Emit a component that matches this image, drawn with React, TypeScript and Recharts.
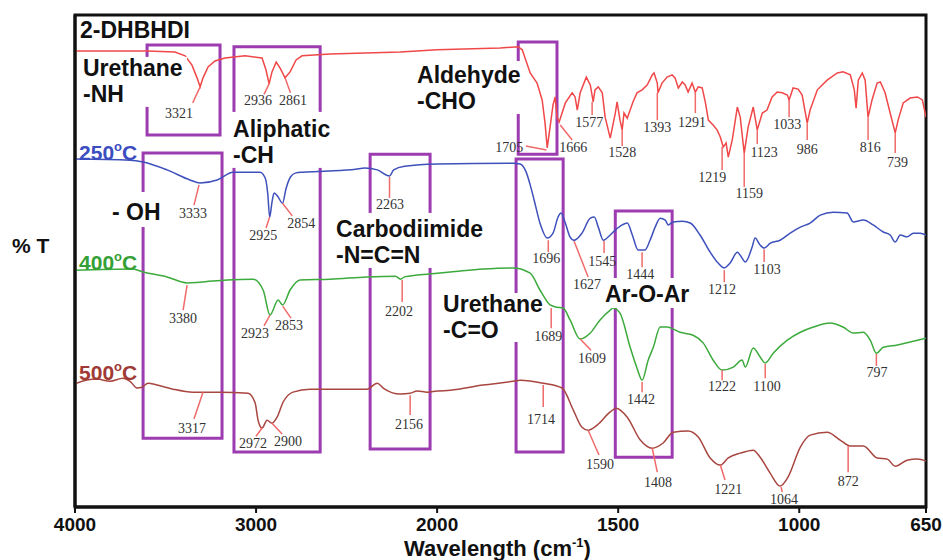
import React from "react";
import {
  LineChart,
  Line,
  XAxis,
  YAxis,
  ReferenceArea,
  ReferenceLine,
  ReferenceDot,
} from "recharts";

// wavenumber ticks (cm-1); the axis doubles its scale below 2000
const xTickWaves = [4000, 3000, 2000, 1500, 1000, 650];
const yTicks = [0, 10, 20, 30, 40, 50, 60, 70, 80, 90, 100, 110, 120];

// spectra as [wavenumber, %T] (arbitrary offset units)
const dhbhdi = [
  [4000, 117.4], [3862, 117.4], [3602, 117.4], [3448, 117.1], [3392, 116.1], [3354, 113.6],
  [3326, 110.2], [3309, 107.8], [3293, 110.2], [3265, 113.1], [3227, 114.7], [3171, 115.5],
  [3061, 116.1], [2967, 115.5], [2945, 112.3], [2928, 108.6], [2912, 111.8], [2889, 114.4],
  [2867, 112.8], [2840, 110.2], [2812, 111.8], [2779, 115.0], [2746, 116.1], [2591, 116.6],
  [2204, 117.1], [2000, 117.7], [1826, 118.2], [1776, 118.5], [1765, 117.7], [1743, 111.5],
  [1724, 108.8], [1710, 104.3], [1702, 98.1], [1696, 91.5], [1688, 97.1], [1680, 103.0],
  [1674, 105.1], [1669, 99.7], [1663, 98.4], [1646, 103.5], [1627, 106.2], [1619, 105.1],
  [1613, 101.6], [1605, 106.2], [1588, 110.4], [1577, 108.3], [1569, 103.8], [1564, 107.0],
  [1555, 107.8], [1544, 106.2], [1536, 99.7], [1522, 94.1], [1508, 100.8], [1503, 103.8],
  [1495, 98.9], [1489, 96.3], [1484, 100.8], [1475, 99.4], [1467, 101.6], [1459, 103.8],
  [1448, 106.2], [1434, 107.0], [1420, 108.3], [1406, 111.0], [1401, 111.5], [1392, 108.8],
  [1390, 106.2], [1379, 108.8], [1365, 110.4], [1351, 111.0], [1343, 110.2], [1334, 107.5],
  [1323, 109.1], [1315, 108.3], [1307, 106.4], [1296, 108.8], [1287, 106.4], [1279, 107.8],
  [1268, 107.5], [1259, 103.5], [1251, 98.9], [1238, 97.6], [1227, 96.3], [1218, 94.4],
  [1210, 91.7], [1202, 92.8], [1196, 89.0], [1185, 93.6], [1171, 102.4], [1163, 99.7],
  [1152, 90.1], [1141, 97.1], [1127, 102.4], [1116, 96.3], [1102, 100.8], [1089, 101.6],
  [1075, 105.1], [1061, 106.4], [1047, 106.2], [1033, 105.6], [1028, 104.3], [1017, 107.5],
  [1003, 107.2], [992, 105.6], [978, 98.1], [970, 101.6], [950, 107.0], [923, 109.6],
  [895, 111.5], [879, 111.8], [859, 111.0], [848, 107.0], [843, 102.1], [837, 109.6],
  [826, 111.5], [818, 109.6], [810, 99.7], [799, 104.3], [785, 108.8], [776, 109.1],
  [763, 106.2], [749, 100.8], [735, 95.5], [727, 98.9], [713, 103.5], [694, 104.8],
  [674, 105.1], [660, 104.3], [650, 99.7],
];

const c250 = [
  [4000, 88.5], [3696, 88.2], [3624, 87.7], [3492, 85.6], [3365, 82.9], [3309, 82.1],
  [3215, 82.9], [3127, 85.0], [2978, 85.0], [2950, 83.5], [2935, 79.0], [2925, 73.0],
  [2912, 77.0], [2900, 79.4], [2880, 78.5], [2854, 76.7], [2835, 80.5], [2810, 83.7],
  [2780, 84.8], [2740, 85.0], [2600, 85.3], [2450, 85.8], [2400, 86.1], [2330, 85.6],
  [2263, 84.0], [2240, 85.6], [2180, 86.6], [2000, 87.2], [1790, 87.4], [1771, 87.2],
  [1754, 85.0], [1743, 81.6], [1732, 77.5], [1716, 71.4], [1696, 67.4], [1680, 68.7],
  [1666, 73.0], [1658, 74.1], [1646, 71.4], [1633, 67.7], [1622, 66.8], [1600, 68.7],
  [1577, 72.7], [1566, 73.0], [1555, 70.3], [1541, 66.8], [1522, 68.2], [1508, 69.5],
  [1489, 70.9], [1475, 71.4], [1461, 68.2], [1445, 64.2], [1426, 64.2], [1412, 66.8],
  [1398, 70.3], [1384, 72.7], [1370, 72.2], [1362, 70.9], [1348, 71.7], [1323, 71.9],
  [1301, 71.4], [1274, 68.2], [1246, 63.6], [1224, 60.7], [1207, 59.4], [1191, 60.7],
  [1171, 63.6], [1163, 62.8], [1149, 61.0], [1130, 65.0], [1122, 67.4], [1108, 65.5],
  [1097, 64.7], [1080, 66.0], [1053, 66.8], [1025, 68.7], [997, 70.3], [970, 71.4],
  [942, 73.5], [906, 74.3], [868, 74.1], [851, 71.7], [823, 72.2], [796, 70.9],
  [768, 69.0], [749, 68.2], [735, 66.3], [721, 68.2], [702, 67.7], [685, 68.7],
  [666, 68.7], [650, 68.2],
];

const c400 = [
  [4000, 58.8], [3680, 59.1], [3624, 58.3], [3492, 57.0], [3381, 55.4], [3309, 55.6],
  [3160, 56.2], [3017, 56.4], [2961, 53.5], [2923, 46.8], [2878, 50.8], [2853, 49.5],
  [2812, 53.5], [2757, 56.2], [2591, 56.4], [2387, 57.0], [2230, 57.2], [2202, 56.4],
  [2180, 57.0], [2110, 57.5], [2000, 58.0], [1964, 58.3], [1873, 59.1], [1790, 59.4],
  [1743, 58.0], [1716, 53.5], [1688, 49.5], [1669, 48.9], [1652, 48.7], [1633, 45.5],
  [1605, 40.4], [1577, 42.0], [1550, 45.5], [1522, 48.1], [1514, 48.7], [1495, 47.3],
  [1467, 38.2], [1448, 32.6], [1434, 29.4], [1417, 34.8], [1403, 38.2], [1384, 43.6],
  [1365, 43.6], [1329, 42.2], [1293, 41.4], [1265, 39.3], [1238, 34.8], [1213, 32.1],
  [1182, 32.9], [1158, 34.8], [1149, 32.9], [1127, 38.0], [1108, 35.6], [1094, 34.0],
  [1072, 36.6], [1033, 40.1], [997, 42.2], [961, 43.6], [915, 44.7], [879, 43.6],
  [851, 42.0], [823, 42.2], [804, 40.1], [787, 36.6], [768, 38.2], [729, 38.8],
  [694, 39.6], [650, 40.6],
];

const c500 = [
  [4000, 28.3], [3989, 28.6], [3878, 29.7], [3807, 29.1], [3735, 29.9], [3696, 29.1],
  [3657, 27.3], [3630, 27.5], [3597, 28.6], [3547, 28.1], [3459, 27.0], [3348, 26.2],
  [3293, 26.2], [3199, 26.2], [3044, 25.9], [3005, 23.3], [2989, 18.7], [2967, 16.6],
  [2939, 18.7], [2912, 17.9], [2884, 19.5], [2851, 23.5], [2796, 26.2], [2702, 27.0],
  [2387, 27.0], [2331, 28.6], [2298, 27.3], [2204, 25.7], [2149, 25.9], [2110, 26.5],
  [2055, 26.2], [2000, 26.5], [1964, 26.7], [1873, 28.1], [1790, 29.1], [1771, 29.4],
  [1707, 28.6], [1655, 27.3], [1624, 21.4], [1600, 16.8], [1583, 16.0], [1558, 17.4],
  [1522, 20.9], [1506, 21.9], [1475, 19.5], [1439, 13.4], [1406, 11.2], [1376, 12.6],
  [1348, 15.5], [1307, 15.8], [1279, 14.2], [1246, 8.6], [1218, 6.7], [1196, 8.6],
  [1163, 9.9], [1127, 10.7], [1108, 8.8], [1080, 4.5], [1053, 1.1], [1031, 3.5],
  [997, 11.5], [970, 14.7], [923, 15.5], [887, 13.4], [859, 11.8], [823, 11.8],
  [785, 8.6], [757, 8.3], [735, 6.4], [702, 8.0], [674, 8.3], [650, 7.8],
];

// peak marks: label, tick from (w1,t1) to (w2,t2), number centred at (lw,lt)
const peaks = [
  ["3321", 3309, 107.8, 3350, 103.5, 3425, 100.8],
  ["2936", 2928, 108.6, 2956, 105.8, 2989, 104.3],
  ["2861", 2840, 110.2, 2810, 106.2, 2796, 104.3],
  ["1705", 1755, 92.0, 1698, 90.9, 1801, 91.7],
  ["1666", 1660, 97.6, 1627, 93.6, 1624, 91.7],
  ["1577", 1572, 103.8, 1572, 100.3, 1580, 98.4],
  ["1528", 1489, 96.3, 1489, 92.0, 1489, 90.4],
  ["1393", 1392, 106.2, 1392, 98.9, 1392, 97.1],
  ["1291", 1287, 106.4, 1287, 100.8, 1296, 98.4],
  ["1219", 1213, 91.7, 1213, 85.6, 1240, 83.7],
  ["1159", 1152, 90.1, 1152, 81.0, 1138, 79.4],
  ["1123", 1116, 96.3, 1116, 92.5, 1097, 90.4],
  ["1033", 1028, 104.3, 1028, 99.7, 1033, 97.9],
  ["986", 978, 98.1, 978, 93.6, 978, 91.2],
  ["816", 810, 99.7, 810, 93.6, 804, 91.7],
  ["739", 735, 95.5, 735, 90.1, 729, 87.7],
  ["3333", 3315, 81.6, 3343, 76.2, 3348, 74.1],
  ["2925", 2925, 73.0, 2945, 70.1, 2961, 68.2],
  ["2854", 2854, 76.7, 2800, 73.3, 2751, 71.4],
  ["2263", 2263, 83.7, 2263, 78.1, 2260, 76.5],
  ["1696", 1693, 66.8, 1693, 63.6, 1699, 62.0],
  ["1627", 1622, 66.6, 1583, 57.0, 1586, 55.1],
  ["1545", 1539, 66.6, 1539, 63.4, 1544, 61.2],
  ["1444", 1434, 63.6, 1434, 59.6, 1439, 57.8],
  ["1212", 1207, 58.8, 1207, 55.6, 1213, 53.7],
  ["1103", 1097, 64.4, 1097, 61.0, 1089, 59.1],
  ["3380", 3381, 54.8, 3403, 48.1, 3403, 46.0],
  ["2923", 2923, 46.8, 2956, 43.9, 3006, 42.0],
  ["2853", 2853, 49.2, 2807, 46.0, 2818, 44.1],
  ["2202", 2193, 56.2, 2193, 50.3, 2210, 47.9],
  ["1689", 1685, 48.7, 1685, 43.3, 1693, 41.2],
  ["1609", 1605, 40.4, 1575, 37.4, 1572, 35.3],
  ["1442", 1434, 28.9, 1434, 26.2, 1437, 24.3],
  ["1222", 1213, 32.1, 1213, 29.4, 1213, 27.8],
  ["1100", 1094, 33.7, 1094, 29.9, 1089, 27.8],
  ["797", 787, 36.4, 787, 33.2, 785, 31.6],
  ["3317", 3293, 26.2, 3343, 19.0, 3354, 16.6],
  ["2972", 2967, 16.6, 3000, 14.4, 3017, 12.6],
  ["2900", 2912, 17.9, 2856, 15.0, 2823, 13.1],
  ["2156", 2149, 25.4, 2149, 20.1, 2155, 17.6],
  ["1714", 1707, 28.1, 1707, 22.2, 1713, 19.0],
  ["1590", 1583, 16.0, 1553, 9.4, 1550, 7.0],
  ["1408", 1406, 11.2, 1392, 4.8, 1390, 2.1],
  ["1221", 1218, 6.7, 1205, 2.7, 1196, 0.3],
  ["1064", 1050, 0.8, 1047, -0.5, 1042, -2.4],
  ["872", 865, 11.8, 865, 4.8, 865, 2.4],
];

// highlighted bands: wavenumber from/to, %T from/to
const bands = [
  [3602, 3199, 94.9, 119.0],
  [3122, 2646, 10.2, 118.5],
  [3624, 3188, 13.9, 90.1],
  [2370, 2039, 11.0, 89.8],
  [1776, 1669, 89.8, 119.8],
  [1782, 1652, 10.2, 88.5],
  [1508, 1351, 8.8, 74.6],
];

// group notes anchored at top-left (wavenumber, %T)
const notes = [
  { lines: ["2-DHBHDI"], w: 3983, t: 125.7, bw: 0, bh: 0, pad: 18, color: "#111" },
  { lines: ["Urethane", "-NH"], w: 3967, t: 115.8, bw: 106, bh: 50, pad: 19, color: "#111" },
  { lines: ["Aliphatic", "-CH"], w: 3138, t: 101.1, bw: 101, bh: 56, pad: 25, color: "#111" },
  { lines: ["Aldehyde", "-CHO"], w: 2122, t: 114.7, bw: 110, bh: 53, pad: 22, color: "#111" },
  { lines: ["- OH"], w: 3807, t: 79.7, bw: 52, bh: 35, pad: 28, color: "#111" },
  { lines: ["Carbodiimide", "-N=C=N"], w: 2569, t: 74.1, bw: 156, bh: 55, pad: 24, color: "#111" },
  { lines: ["Urethane", "-C=O"], w: 1989, t: 52.7, bw: 100, bh: 49, pad: 19, color: "#111" },
  { lines: ["Ar-O-Ar"], w: 1542, t: 56.7, bw: 87, bh: 30, pad: 24, color: "#111" },
];

const tempLabels = [
  { num: "250", w: 3983, t: 93.3, color: "#3b4dbf" },
  { num: "400", w: 3983, t: 63.9, color: "#35a035" },
  { num: "500", w: 3983, t: 34.5, color: "#a03a35" },
];

const toAxis = (w: number) => (w >= 2000 ? 4000 - w : 6000 - 2 * w);
const fromAxis = (u: number) => (u <= 2000 ? 4000 - u : (6000 - u) / 2);
const rows = (pts: number[][]) => pts.map(([w, t]) => ({ u: toAxis(w), t }));

const SANS = "'Liberation Sans', Arial, sans-serif";
const SERIF = "'Liberation Serif', 'Times New Roman', serif";
const PURPLE = "#9c3cb0";

function NoteBlock(props: any) {
  const { viewBox, note } = props;
  if (!viewBox) return null;
  const { x, y } = viewBox;
  return (
    <g>
      {note.bw > 0 && <rect x={x} y={y} width={note.bw} height={note.bh} fill="#fff" />}
      <text fontFamily={SANS} fontSize={23} fontWeight="bold" fill={note.color}>
        {note.lines.map((ln: string, i: number) => (
          <tspan key={i} x={x + 2} y={y + note.pad + i * 26}>
            {ln}
          </tspan>
        ))}
      </text>
    </g>
  );
}

function TempBlock(props: any) {
  const { viewBox, item } = props;
  if (!viewBox) return null;
  const { x, y } = viewBox;
  return (
    <text x={x + 1} y={y + 19} fontFamily={SANS} fontSize={21} fontWeight="bold" fill={item.color}>
      {item.num}
      <tspan dy={-9} fontSize={13}>o</tspan>
      <tspan dy={9}>C</tspan>
    </text>
  );
}

function YTitle(props: any) {
  const { viewBox } = props;
  if (!viewBox) return null;
  return (
    <text x={viewBox.x + 12} y={viewBox.y + 238} fontFamily={SANS} fontSize={21} fontWeight="bold" fill="#111">
      % T
    </text>
  );
}

function XTitle(props: any) {
  const { viewBox } = props;
  if (!viewBox) return null;
  return (
    <text
      x={viewBox.x + viewBox.width / 2 - 3}
      y={viewBox.y + 49}
      textAnchor="middle"
      fontFamily={SANS}
      fontSize={22}
      fontWeight="bold"
      fill="#111"
    >
      Wavelength (cm
      <tspan dy={-9} fontSize={13}>-1</tspan>
      <tspan dy={9}>)</tspan>
    </text>
  );
}

export default function App() {
  return (
    <div style={{ position: "absolute", left: 0, top: 0, width: 943, height: 560, background: "#fff" }}>
      <LineChart width={943} height={560} margin={{ top: 15, right: 17, bottom: 0, left: 0 }}>
        <XAxis
          type="number"
          dataKey="u"
          domain={[0, 4700]}
          allowDataOverflow
          ticks={xTickWaves.map(toAxis)}
          tickFormatter={(u: number) => String(Math.round(fromAxis(u)))}
          height={53}
          tickSize={6}
          tickMargin={5}
          axisLine={{ stroke: "#111", strokeWidth: 3 }}
          tickLine={{ stroke: "#111", strokeWidth: 2 }}
          tick={{ fontFamily: SANS, fontSize: 19, fontWeight: "bold", fill: "#111" }}
          label={<XTitle />}
        />
        <YAxis
          type="number"
          domain={[-4.5, 127]}
          allowDataOverflow
          ticks={yTicks}
          width={75}
          tick={false}
          tickSize={6}
          axisLine={{ stroke: "#111", strokeWidth: 3 }}
          tickLine={{ stroke: "#111", strokeWidth: 2 }}
          label={<YTitle />}
        />

        <ReferenceArea
          x1={0}
          x2={4700}
          y1={-4.5}
          y2={127}
          fill="none"
          stroke="#111"
          strokeWidth={3}
          ifOverflow="visible"
        />

        {bands.map(([w1, w2, t1, t2], i) => (
          <ReferenceArea
            key={"b" + i}
            x1={toAxis(w1)}
            x2={toAxis(w2)}
            y1={t1}
            y2={t2}
            fill="none"
            stroke={PURPLE}
            strokeWidth={3}
            ifOverflow="visible"
          />
        ))}

        {notes.map((n, i) => (
          <ReferenceDot
            key={"n" + i}
            x={toAxis(n.w)}
            y={n.t}
            r={0}
            fill="none"
            stroke="none"
            ifOverflow="visible"
            label={<NoteBlock note={n} />}
          />
        ))}

        {tempLabels.map((item, i) => (
          <ReferenceDot
            key={"tl" + i}
            x={toAxis(item.w)}
            y={item.t}
            r={0}
            fill="none"
            stroke="none"
            ifOverflow="visible"
            label={<TempBlock item={item} />}
          />
        ))}

        <Line data={rows(dhbhdi)} dataKey="t" type="linear" stroke="#f04848" strokeWidth={1.5} dot={false} activeDot={false} isAnimationActive={false} />
        <Line data={rows(c250)} dataKey="t" type="monotone" stroke="#3e50bb" strokeWidth={1.5} dot={false} activeDot={false} isAnimationActive={false} />
        <Line data={rows(c400)} dataKey="t" type="monotone" stroke="#3caa3c" strokeWidth={1.5} dot={false} activeDot={false} isAnimationActive={false} />
        <Line data={rows(c500)} dataKey="t" type="monotone" stroke="#a84640" strokeWidth={1.5} dot={false} activeDot={false} isAnimationActive={false} />

        {peaks.map(([lab, w1, t1, w2, t2], i) => (
          <ReferenceLine
            key={"pl" + i}
            segment={[
              { x: toAxis(w1 as number), y: t1 as number },
              { x: toAxis(w2 as number), y: t2 as number },
            ]}
            stroke="#f06a6a"
            strokeWidth={1.5}
            ifOverflow="visible"
          />
        ))}
        {peaks.map(([lab, , , , , lw, lt], i) => (
          <ReferenceDot
            key={"pd" + i}
            x={toAxis(lw as number)}
            y={lt as number}
            r={0}
            fill="none"
            stroke="none"
            ifOverflow="visible"
            label={{ value: lab as string, position: "center", fill: "#333", fontSize: 14, fontFamily: SERIF }}
          />
        ))}
      </LineChart>
    </div>
  );
}
